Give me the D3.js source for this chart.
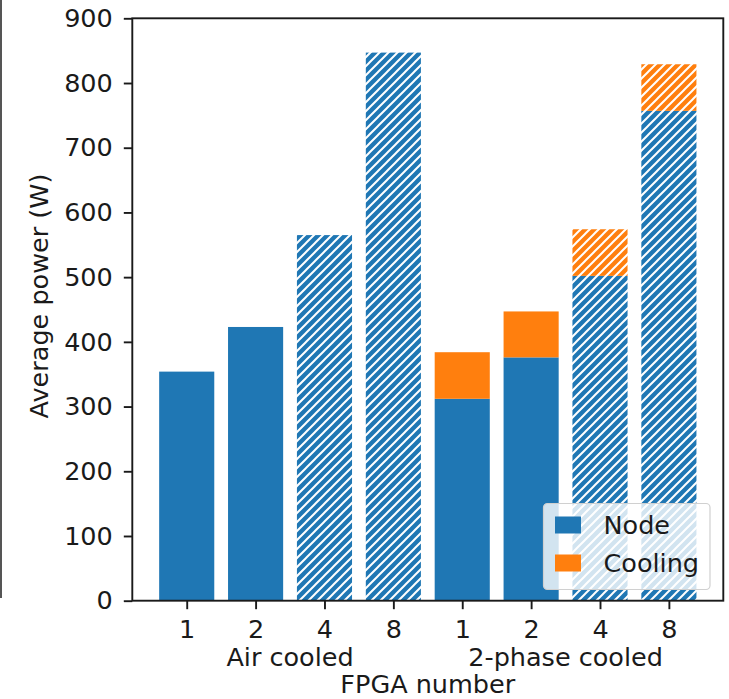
<!DOCTYPE html>
<html>
<head>
<meta charset="utf-8">
<script src="https://cdn.jsdelivr.net/npm/d3@7"></script>
<style>
  html, body { margin: 0; padding: 0; background: #fff; }
  svg { display: block; font-family: "DejaVu Sans", sans-serif; }
</style>
</head>
<body>
<svg id="chart" width="729" height="699"></svg>
<script>
// Average power per configuration, split into node and cooling draw
const groupNames = ["Air cooled", "2-phase cooled"];
const fpgaLabels = ["1", "2", "4", "8", "1", "2", "4", "8"];
const nodePower = [354, 423, 565, 847, 312, 376, 502, 757];
const coolingPower = [0, 0, 0, 0, 72, 71, 72, 72];
const isHatched = [false, false, true, true, false, false, true, true];
const yTickValues = [0, 100, 200, 300, 400, 500, 600, 700, 800, 900];
const seriesNames = ["Node", "Cooling"];
const seriesColors = ["#1f77b4", "#ff7f0e"];

const svg = d3.select("#chart");
const plot = { left: 132.3, right: 723.3, top: 18.3, bottom: 600.7 };
const ink = "#1a1a1a";
const fontSize = 25.5;
const tickLen = 8.5;

const x = d3.scaleLinear().domain([-0.79, 7.79]).range([plot.left, plot.right]);
const y = d3.scaleLinear().domain([0, 900]).range([plot.bottom, plot.top]);
const barW = x(0.8) - x(0);

// diagonal hatch patterns, one per series colour
const defs = svg.append("defs");
const P = 9;
seriesColors.forEach((c, i) => {
  const pat = defs.append("pattern")
    .attr("id", "hatch" + i)
    .attr("patternUnits", "userSpaceOnUse")
    .attr("width", P).attr("height", P);
  pat.append("rect").attr("width", P).attr("height", P).attr("fill", c);
  pat.append("path")
    .attr("d", `M${-P/2},${P/2} L${P/2},${-P/2} M0,${P} L${P},0 M${P/2},${P*1.5} L${P*1.5},${P/2}`)
    .attr("stroke", "#fff").attr("stroke-width", 2).attr("fill", "none");
});

// stray frame line at the far left
svg.append("line")
  .attr("x1", 1).attr("x2", 1).attr("y1", 0).attr("y2", 598)
  .attr("stroke", "#555").attr("stroke-width", 2);

const idx = d3.range(nodePower.length);

// node (bottom) segment
svg.append("g").selectAll("rect").data(idx).join("rect")
  .attr("x", i => x(i) - barW / 2)
  .attr("width", barW)
  .attr("y", i => y(nodePower[i]))
  .attr("height", i => y(0) - y(nodePower[i]))
  .attr("fill", i => isHatched[i] ? "url(#hatch0)" : seriesColors[0]);

// cooling (stacked) segment
svg.append("g").selectAll("rect").data(idx.filter(i => coolingPower[i] > 0)).join("rect")
  .attr("x", i => x(i) - barW / 2)
  .attr("width", barW)
  .attr("y", i => y(nodePower[i] + coolingPower[i]))
  .attr("height", i => y(nodePower[i]) - y(nodePower[i] + coolingPower[i]))
  .attr("fill", i => isHatched[i] ? "url(#hatch1)" : seriesColors[1]);

// y axis
const yAxis = svg.append("g")
  .attr("transform", `translate(${plot.left},0)`)
  .call(d3.axisLeft(y).tickValues(yTickValues).tickSize(tickLen).tickPadding(11));
// x axis
const xAxis = svg.append("g")
  .attr("transform", `translate(0,${plot.bottom})`)
  .call(d3.axisBottom(x).tickValues(idx).tickFormat(i => fpgaLabels[i]).tickSize(tickLen).tickPadding(11));

[yAxis, xAxis].forEach(g => {
  g.select(".domain").remove();
  g.selectAll(".tick line").attr("stroke", ink).attr("stroke-width", 1.9);
  g.selectAll(".tick text").attr("fill", ink)
    .style("font-size", fontSize + "px").style("font-family", "DejaVu Sans");
});

// spines
svg.append("rect")
  .attr("x", plot.left).attr("y", plot.top)
  .attr("width", plot.right - plot.left).attr("height", plot.bottom - plot.top)
  .attr("fill", "none").attr("stroke", ink).attr("stroke-width", 1.9);

// group labels under the tick labels
groupNames.forEach((g, k) => {
  svg.append("text")
    .attr("x", x(k * 4 + 1.5)).attr("y", 666)
    .attr("text-anchor", "middle").attr("fill", ink)
    .style("font-size", fontSize + "px")
    .text(g);
});

// axis titles
svg.append("text")
  .attr("x", (plot.left + plot.right) / 2).attr("y", 693)
  .attr("text-anchor", "middle").attr("fill", ink)
  .style("font-size", fontSize + "px")
  .text("FPGA number");
svg.append("text")
  .attr("transform", "translate(48,296) rotate(-90)")
  .attr("text-anchor", "middle").attr("fill", ink)
  .style("font-size", fontSize + "px")
  .text("Average power (W)");

// legend
const lg = svg.append("g").attr("transform", "translate(543.5,503.5)");
lg.append("rect")
  .attr("width", 166.5).attr("height", 86).attr("rx", 4)
  .attr("fill", "#fff").attr("fill-opacity", 0.8)
  .attr("stroke", "#d0d0d0").attr("stroke-width", 1.2);
seriesNames.forEach((name, i) => {
  const row = lg.append("g").attr("transform", `translate(0,${i * 38})`);
  row.append("rect")
    .attr("x", 11.5).attr("y", 13).attr("width", 26).attr("height", 17)
    .attr("fill", seriesColors[i]);
  row.append("text")
    .attr("x", 60).attr("y", 30)
    .attr("fill", ink).style("font-size", fontSize + "px")
    .text(name);
});
</script>
</body>
</html>
